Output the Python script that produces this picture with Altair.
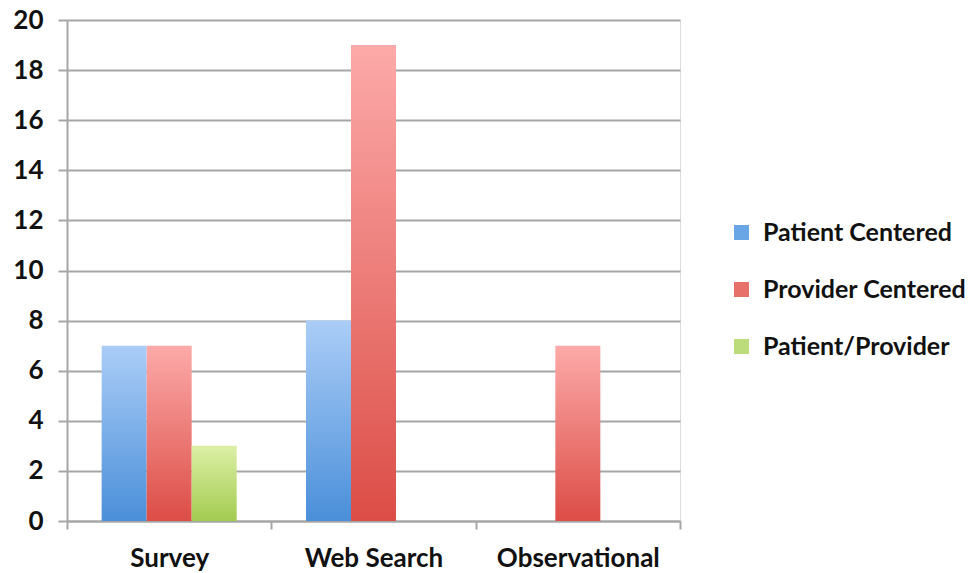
import altair as alt
import pandas as pd

categories = ["Survey", "Web Search", "Observational"]
series = ["Patient Centered", "Provider Centered", "Patient/Provider"]
patient_centered = [7, 8, 0]
provider_centered = [7, 19, 7]
patient_provider = [3, 0, 0]

rows = []
for i, c in enumerate(categories):
    for s, vals in zip(series, [patient_centered, provider_centered, patient_provider]):
        rows.append({"category": c, "series": s, "value": vals[i]})
df = pd.DataFrame(rows)

top_colors = ["#abcdf7", "#fcaaa9", "#dcf0a6"]
bottom_colors = ["#4a8fd9", "#dc4d46", "#a3cb50"]
legend_colors = ["#6aa5e6", "#e8706b", "#bcdc7c"]

FONT = "Lato"
GRID = "#a6a6a6"

x_enc = alt.X(
    "category:N",
    sort=categories,
    scale=alt.Scale(paddingInner=0, paddingOuter=0),
    axis=alt.Axis(
        title=None, labelAngle=0, labelFontSize=26, labelFontWeight="bold",
        labelColor="#111111", labelFont=FONT, labelPadding=16,
        domainColor=GRID, domainWidth=2, tickColor=GRID, tickWidth=2,
        tickSize=8, tickBand="extent", grid=False,
    ),
)
xo_enc = alt.XOffset(
    "series:N", sort=series,
    scale=alt.Scale(domain=series, paddingInner=0, paddingOuter=0.77),
)
y_enc = alt.Y(
    "value:Q",
    scale=alt.Scale(domain=[0, 20]),
    axis=alt.Axis(
        title=None, values=list(range(0, 21, 2)), labelFontSize=26,
        labelFontWeight="bold", labelColor="#111111", labelFont=FONT,
        labelPadding=15, grid=True, gridColor=GRID, gridWidth=2,
        tickColor=GRID, tickWidth=2, tickSize=9, domainColor=GRID, domainWidth=2,
    ),
)

layers = []
for s, tc, bc in zip(series, top_colors, bottom_colors):
    grad = alt.Gradient(
        gradient="linear",
        stops=[alt.GradientStop(color=tc, offset=0), alt.GradientStop(color=bc, offset=1)],
        x1=0, x2=0, y1=0, y2=1,
    )
    layers.append(
        alt.Chart(df)
        .transform_filter((alt.datum.series == s) & (alt.datum.value > 0))
        .mark_bar(color=grad)
        .encode(x=x_enc, xOffset=xo_enc, y=y_enc)
    )

legend_layer = (
    alt.Chart(df)
    .mark_bar()
    .encode(
        x=x_enc,
        xOffset=xo_enc,
        y=alt.datum(0),
        color=alt.Color(
            "series:N",
            sort=series,
            scale=alt.Scale(domain=series, range=legend_colors),
            legend=alt.Legend(
                title=None, orient="none", legendX=662, legendY=200,
                symbolType="square", symbolSize=225, symbolStrokeWidth=0,
                labelFontSize=25, labelFontWeight="bold", labelFont=FONT,
                labelColor="#111111", labelOffset=9, rowPadding=31,
                labelLimit=400,
            ),
        ),
    )
)

chart = (
    alt.layer(*layers, legend_layer)
    .properties(
        width=613, height=501,
        autosize=alt.AutoSizeParams(type="none"),
        padding={"left": 67, "top": 20, "right": 299, "bottom": 52},
    )
    .configure_view(stroke=None)
    .configure(background="white")
)

chart.save("out.html", embed_options={"renderer": "svg", "actions": False})
